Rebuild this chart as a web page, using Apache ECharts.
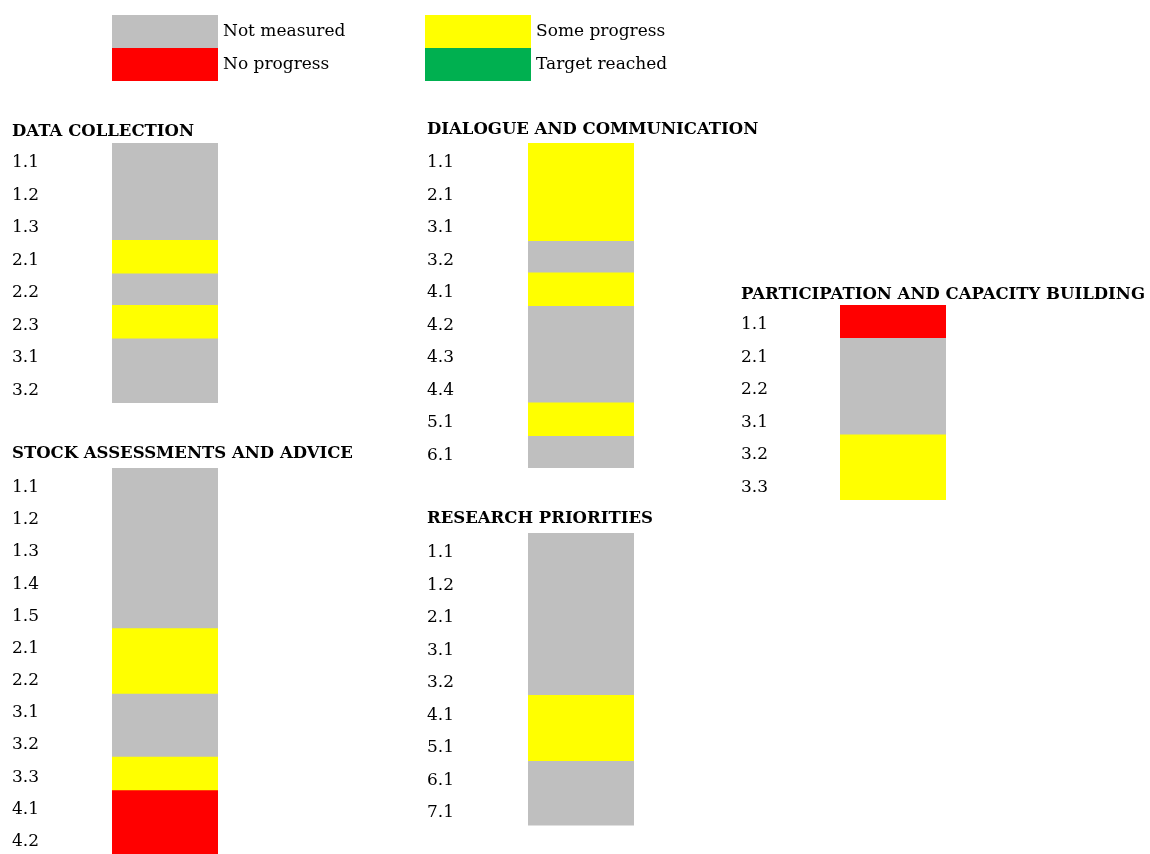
<!DOCTYPE html>
<html>
<head>
<meta charset="utf-8">
<script src="https://cdn.jsdelivr.net/npm/echarts@6/dist/echarts.min.js"></script>
<style>html,body{margin:0;padding:0;background:#fff;}#c{width:1150px;height:854px;}</style>
</head>
<body>
<div id="c"></div>
<script>
// Status names (legend)
const statusNames = ['Not measured', 'No progress', 'Some progress', 'Target reached'];
const statusColors = ['#BFBFBF', '#FF0000', '#FFFF00', '#00B050'];

// Section titles
const sectionTitles = ['DATA COLLECTION', 'STOCK ASSESSMENTS AND ADVICE', 'DIALOGUE AND COMMUNICATION', 'RESEARCH PRIORITIES', 'PARTICIPATION AND CAPACITY BUILDING'];

// Categories and statuses (N = Not measured, R = No progress, S = Some progress, T = Target reached)
const dataCollectionCats = ['1.1','1.2','1.3','2.1','2.2','2.3','3.1','3.2'];
const dataCollectionStatus = ['N','N','N','S','N','S','N','N'];

const stockCats = ['1.1','1.2','1.3','1.4','1.5','2.1','2.2','3.1','3.2','3.3','4.1','4.2'];
const stockStatus = ['N','N','N','N','N','S','S','N','N','S','R','R'];

const dialogueCats = ['1.1','2.1','3.1','3.2','4.1','4.2','4.3','4.4','5.1','6.1'];
const dialogueStatus = ['S','S','S','N','S','N','N','N','S','N'];

const researchCats = ['1.1','1.2','2.1','3.1','3.2','4.1','5.1','6.1','7.1'];
const researchStatus = ['N','N','N','N','N','S','S','N','N'];

const participationCats = ['1.1','2.1','2.2','3.1','3.2','3.3'];
const participationStatus = ['R','N','N','N','S','S'];

const statusCodes = ['N','R','S','T'];

const FONT = 'DejaVu Serif';
const FS = 17;
const FS_TITLE = 16.5;
const ROW = 32.5;

const sections = [
  {cats: dataCollectionCats, status: dataCollectionStatus, gridLeft: 112, gridTop: 143, labelX: 12, titleTop: 123},
  {cats: stockCats, status: stockStatus, gridLeft: 112, gridTop: 468, labelX: 12, titleTop: 445},
  {cats: dialogueCats, status: dialogueStatus, gridLeft: 528, gridTop: 143, labelX: 427, titleTop: 121},
  {cats: researchCats, status: researchStatus, gridLeft: 528, gridTop: 533, labelX: 427, titleTop: 510},
  {cats: participationCats, status: participationStatus, gridLeft: 840, gridTop: 305, labelX: 741, titleTop: 286}
];
const cellWidth = 106;

const grids = [], xAxes = [], yAxes = [], series = [], titles = [];
sections.forEach((s, g) => {
  grids.push({left: s.gridLeft, top: s.gridTop, width: cellWidth, height: s.cats.length * ROW});
  xAxes.push({type: 'value', gridIndex: g, min: 0, max: 1, show: false});
  yAxes.push({
    type: 'category', gridIndex: g, data: s.cats, inverse: true,
    axisLine: {show: false}, axisTick: {show: false}, splitLine: {show: false},
    axisLabel: {
      align: 'left', verticalAlign: 'middle', margin: s.gridLeft - s.labelX,
      formatter: v => '{a|' + v + '}',
      rich: {a: {padding: [7, 0, 0, 0], color: '#000', fontFamily: FONT, fontSize: FS}}
    }
  });
  titles.push({
    text: sectionTitles[g], left: s.labelX, top: s.titleTop, padding: 0,
    textStyle: {fontFamily: FONT, fontSize: FS_TITLE, fontWeight: 'bold', color: '#000'}
  });
  statusCodes.forEach((code, k) => {
    series.push({
      type: 'bar', name: statusNames[k], xAxisIndex: g, yAxisIndex: g,
      stack: 'sec' + g, barWidth: ROW + 1, // 1px overlap hides seams between adjacent cells
      itemStyle: {color: statusColors[k]},
      data: s.status.map(v => v === code ? 1 : '-'),
      animation: false
    });
  });
});

const legendCommon = {
  orient: 'vertical', padding: 0, itemGap: 0, itemWidth: 106, itemHeight: 33,
  icon: 'rect', selectedMode: false,
  itemStyle: {borderWidth: 0},
  textStyle: {fontFamily: FONT, fontSize: FS, color: '#000'}
};

const chart = echarts.init(document.getElementById('c'));
chart.setOption({
  backgroundColor: '#fff',
  animation: false,
  title: titles,
  legend: [
    Object.assign({}, legendCommon, {left: 112, top: 15, data: [statusNames[0], statusNames[1]]}),
    Object.assign({}, legendCommon, {left: 425, top: 15, data: [statusNames[2], statusNames[3]]})
  ],
  grid: grids,
  xAxis: xAxes,
  yAxis: yAxes,
  series: series
});
</script>
</body>
</html>
